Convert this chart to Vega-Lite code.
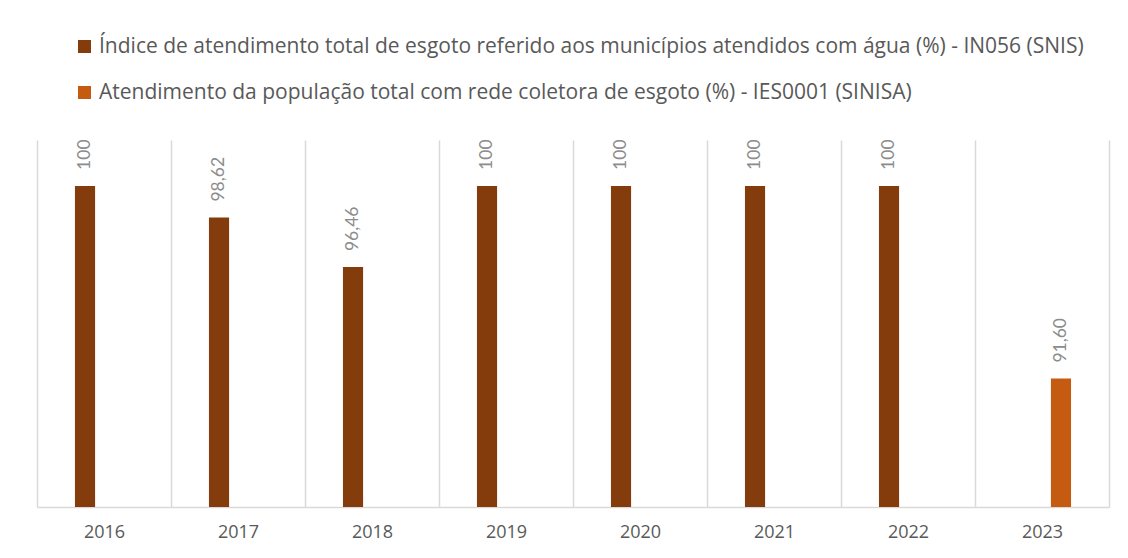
{
  "$schema": "https://vega.github.io/schema/vega-lite/v6.json",
  "width": 1072,
  "height": 367,
  "autosize": {"type": "none"},
  "padding": {"left": 37, "top": 140, "right": 19, "bottom": 51},
  "background": "white",
  "config": {
    "font": "Lato",
    "view": {"stroke": null}
  },
  "data": {
    "values": [
      {"ano": "2016", "serie": "Índice de atendimento total de esgoto referido aos municípios atendidos com água (%) - IN056 (SNIS)", "valor": 100, "rotulo": "100"},
      {"ano": "2017", "serie": "Índice de atendimento total de esgoto referido aos municípios atendidos com água (%) - IN056 (SNIS)", "valor": 98.62, "rotulo": "98,62"},
      {"ano": "2018", "serie": "Índice de atendimento total de esgoto referido aos municípios atendidos com água (%) - IN056 (SNIS)", "valor": 96.46, "rotulo": "96,46"},
      {"ano": "2019", "serie": "Índice de atendimento total de esgoto referido aos municípios atendidos com água (%) - IN056 (SNIS)", "valor": 100, "rotulo": "100"},
      {"ano": "2020", "serie": "Índice de atendimento total de esgoto referido aos municípios atendidos com água (%) - IN056 (SNIS)", "valor": 100, "rotulo": "100"},
      {"ano": "2021", "serie": "Índice de atendimento total de esgoto referido aos municípios atendidos com água (%) - IN056 (SNIS)", "valor": 100, "rotulo": "100"},
      {"ano": "2022", "serie": "Índice de atendimento total de esgoto referido aos municípios atendidos com água (%) - IN056 (SNIS)", "valor": 100, "rotulo": "100"},
      {"ano": "2023", "serie": "Atendimento da população total com rede coletora de esgoto (%) - IES0001 (SINISA)", "valor": 91.6, "rotulo": "91,60"}
    ]
  },
  "encoding": {
    "x": {
      "field": "ano",
      "type": "nominal",
      "scale": {"paddingInner": 0, "paddingOuter": 0},
      "axis": {
        "title": null,
        "labelAngle": 0,
        "labelFont": "Open Sans",
        "labelFontSize": 18,
        "labelColor": "#595959",
        "labelPadding": 16,
        "ticks": false,
        "grid": true,
        "tickBand": "extent",
        "gridColor": "#d9d9d9",
        "gridWidth": 1.5,
        "domainColor": "#d9d9d9",
        "domainWidth": 1.5
      }
    },
    "xOffset": {
      "field": "serie",
      "type": "nominal",
      "scale": {
        "domain": [
          "Índice de atendimento total de esgoto referido aos municípios atendidos com água (%) - IN056 (SNIS)",
          "Atendimento da população total com rede coletora de esgoto (%) - IES0001 (SINISA)"
        ],
        "paddingInner": 0.47,
        "paddingOuter": 1.15
      }
    },
    "y": {
      "field": "valor",
      "type": "quantitative",
      "scale": {"domain": [86, 102], "nice": false, "zero": false},
      "axis": null
    }
  },
  "layer": [
    {
      "mark": {"type": "bar", "clip": true},
      "encoding": {
        "color": {
          "field": "serie",
          "type": "nominal",
          "scale": {
            "domain": [
              "Índice de atendimento total de esgoto referido aos municípios atendidos com água (%) - IN056 (SNIS)",
              "Atendimento da população total com rede coletora de esgoto (%) - IES0001 (SINISA)"
            ],
            "range": ["#843C0C", "#C55A11"]
          },
          "legend": {
            "title": null,
            "orient": "none",
            "legendX": 37,
            "legendY": -104,
            "direction": "vertical",
            "padding": 0,
            "symbolType": "square",
            "symbolSize": 169,
            "symbolStrokeWidth": 0,
            "symbolOffset": 0,
            "labelOffset": 4,
            "labelFont": "Open Sans",
            "labelFontSize": 21,
            "labelColor": "#595959",
            "labelLimit": 1100,
            "rowPadding": 24
          }
        }
      }
    },
    {
      "mark": {
        "type": "text",
        "angle": 270,
        "align": "left",
        "baseline": "middle",
        "dx": 16,
        "fontSize": 17.5,
        "color": "#8c8c8c"
      },
      "encoding": {
        "text": {"field": "rotulo", "type": "nominal"}
      }
    }
  ]
}
